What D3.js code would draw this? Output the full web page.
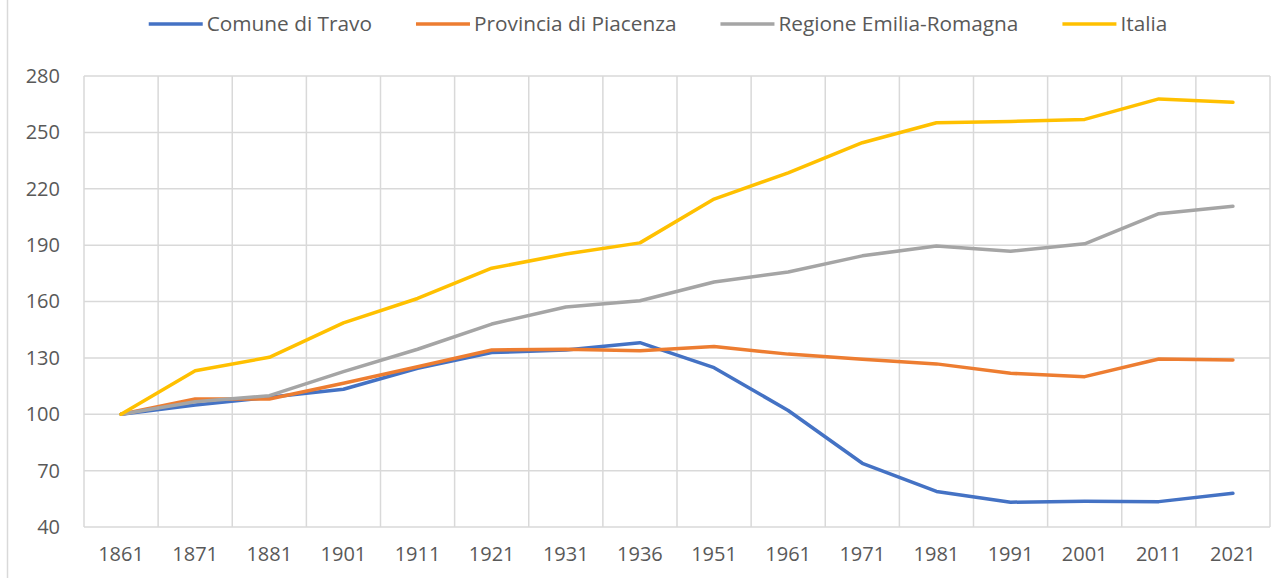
<!DOCTYPE html>
<html>
<head>
<meta charset="utf-8">
<script src="https://cdn.jsdelivr.net/npm/d3@7"></script>
<style>
  body { margin: 0; background: #fff; }
  svg text { font-family: "Open Sans", "Noto Sans", sans-serif; fill: #595959; }
</style>
</head>
<body>
<svg width="1283" height="578"></svg>
<script>
// anni del censimento
var years = ["1861","1871","1881","1901","1911","1921","1931","1936","1951","1961","1971","1981","1991","2001","2011","2021"];

// indice popolazione (1861 = 100)
var travo    = [100, 104.9, 109, 113.3, 124.5, 132.8, 134.2, 138.1, 124.8, 102, 73.9, 58.9, 53.2, 53.7, 53.5, 57.9];
var piacenza = [100, 108.1, 108.1, 116.5, 125.3, 134.2, 134.6, 133.8, 136, 132, 129.3, 126.8, 121.8, 120, 129.4, 128.9];
var emilia   = [100, 106.7, 109.9, 122.7, 134.6, 148, 157.1, 160.4, 170.4, 175.7, 184.3, 189.5, 186.7, 190.7, 206.7, 210.7];
var italia   = [100, 123.2, 130.3, 148.6, 161.6, 177.7, 185.3, 191.2, 214.5, 228.5, 244.5, 255.1, 255.8, 256.9, 267.8, 266];

var seriesNames = ["Comune di Travo", "Provincia di Piacenza", "Regione Emilia-Romagna", "Italia"];
var yTicks = [40, 70, 100, 130, 160, 190, 220, 250, 280];

var colors = ["#4472C4", "#ED7D31", "#A5A5A5", "#FFC000"];

var series = [travo, piacenza, emilia, italia].map(function(vals, i) {
  return { name: seriesNames[i], color: colors[i], values: vals };
});

var svg = d3.select("svg");
var margin = { left: 84, right: 13, top: 76, bottom: 51 };
var width = +svg.attr("width");
var height = +svg.attr("height");

// bordo sinistro dell'area grafico
svg.append("line")
  .attr("x1", 7.5).attr("x2", 7.5)
  .attr("y1", 0).attr("y2", height)
  .attr("stroke", "#d9d9d9").attr("stroke-width", 1.5);

var x = d3.scaleBand()
  .domain(years)
  .range([margin.left, width - margin.right])
  .padding(0);

var y = d3.scaleLinear()
  .domain([40, 280])
  .range([height - margin.bottom, margin.top]);

var grid = svg.append("g").attr("class", "grid");

// linee orizzontali
grid.selectAll("line.h")
  .data(yTicks)
  .enter().append("line")
  .attr("class", "h")
  .attr("x1", margin.left).attr("x2", width - margin.right)
  .attr("y1", function(d) { return y(d); })
  .attr("y2", function(d) { return y(d); })
  .attr("stroke", "#d9d9d9").attr("stroke-width", 1.5);

// linee verticali ai bordi delle categorie
var bounds = years.map(function(d) { return x(d); }).concat([x(years[years.length - 1]) + x.bandwidth()]);
grid.selectAll("line.v")
  .data(bounds)
  .enter().append("line")
  .attr("class", "v")
  .attr("x1", function(d) { return d; })
  .attr("x2", function(d) { return d; })
  .attr("y1", margin.top).attr("y2", height - margin.bottom)
  .attr("stroke", "#d9d9d9").attr("stroke-width", 1.5);

// etichette asse Y
var yAxis = d3.axisLeft(y).tickValues(yTicks).tickSize(0).tickPadding(24);
svg.append("g")
  .attr("transform", "translate(" + margin.left + ",0)")
  .call(yAxis)
  .call(function(g) { g.select(".domain").remove(); })
  .selectAll("text")
  .style("font-size", "20px")
  .attr("fill", "#595959");

// etichette asse X
var xAxis = d3.axisBottom(x).tickSize(0).tickPadding(20);
svg.append("g")
  .attr("transform", "translate(0," + (height - margin.bottom) + ")")
  .call(xAxis)
  .call(function(g) { g.select(".domain").remove(); })
  .selectAll("text")
  .style("font-size", "20px")
  .attr("fill", "#595959");

var line = d3.line()
  .x(function(d, i) { return x(years[i]) + x.bandwidth() / 2; })
  .y(function(d) { return y(d); });

svg.append("g").selectAll("path")
  .data(series)
  .enter().append("path")
  .attr("d", function(d) { return line(d.values); })
  .attr("fill", "none")
  .attr("stroke", function(d) { return d.color; })
  .attr("stroke-width", 3.5)
  .attr("stroke-linejoin", "round")
  .attr("stroke-linecap", "round");

// legenda
var legend = svg.append("g").attr("class", "legend");
var items = legend.selectAll("g")
  .data(series)
  .enter().append("g");

items.append("line")
  .attr("x1", 0).attr("x2", 54)
  .attr("y1", 0).attr("y2", 0)
  .attr("stroke", function(d) { return d.color; })
  .attr("stroke-width", 3.5);

items.append("text")
  .attr("x", 58)
  .attr("dy", "0.35em")
  .style("font-size", "20.8px")
  .text(function(d) { return d.name; });

var gap = 44, pos = 0, offsets = [];
items.each(function(d) {
  offsets.push(pos);
  pos += 58 + d3.select(this).select("text").node().getComputedTextLength() + gap;
});
var total = pos - gap;
var start = 658 - total / 2;
items.attr("transform", function(d, i) { return "translate(" + (start + offsets[i]) + ",24)"; });
</script>
</body>
</html>
